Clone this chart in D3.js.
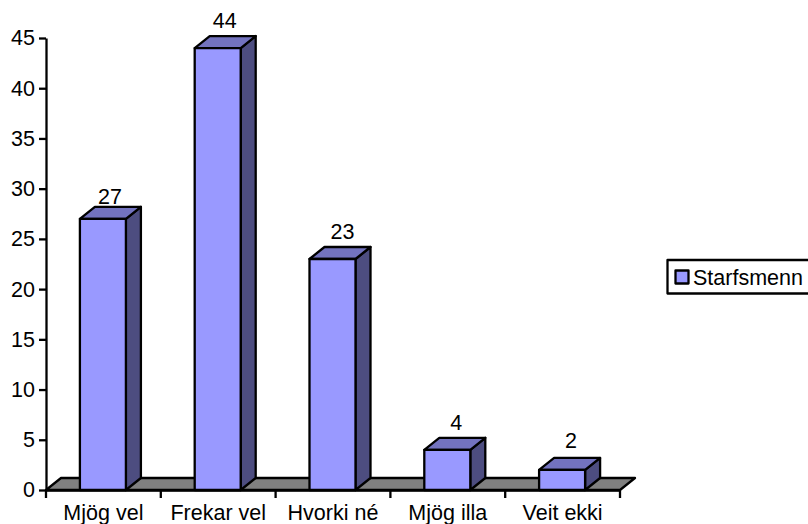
<!DOCTYPE html>
<html><head><meta charset="utf-8">
<script src="https://cdn.jsdelivr.net/npm/d3@7"></script>
<style>html,body{margin:0;padding:0;background:#fff;overflow:hidden}svg{display:block}text{font-family:"Liberation Sans",Arial,sans-serif;font-size:21.5px;fill:#000}</style>
</head><body><svg id="c" width="808" height="524"></svg>
<script>
const categories = ["Mjög vel","Frekar vel","Hvorki né","Mjög illa","Veit ekki"];
const values = [27,44,23,4,2];
const yTicks = [0,5,10,15,20,25,30,35,40,45];
const seriesName = "Starfsmenn";
const labelDx = [7,7,10,9,9];
const labelDy = [3,8,8,8,10];

const svg = d3.select("#c");
const x = d3.scaleBand().domain(categories).range([46,620]).paddingInner(0).paddingOuter(0);
const y = d3.scaleLinear().domain([0,45]).range([490,38]);
const depthX = 15, depthY = 12, barW = 46;
const colFront="#9999ff", colTop="#7373bf", colSide="#4d4d80", colFloor="#808080";
const sw = 2.3;
const fontSize = "21.5px";
const poly = pts => pts.map(p=>p.join(",")).join(" ");

svg.append("polygon")
  .attr("points",poly([[x.range()[0],y(0)],[x.range()[0]+depthX,y(0)-depthY],[x.range()[1]+depthX,y(0)-depthY],[x.range()[1],y(0)]]))
  .attr("fill",colFloor).attr("stroke","#000").attr("stroke-width",sw).attr("stroke-linejoin","round");

const yAxis = svg.append("g").attr("transform","translate(46,0)")
  .call(d3.axisLeft(y).tickValues(yTicks).tickSize(7).tickSizeOuter(0).tickPadding(4).tickFormat(d3.format("d")));
const xAxis = svg.append("g").attr("transform","translate(0,490)")
  .call(d3.axisBottom(x).tickSize(0).tickPadding(14.5));
xAxis.selectAll(".tick text").attr("dy","0.71em");
xAxis.selectAll("line.edge").data(d3.range(categories.length+1)).enter().append("line")
  .attr("x1",i=>46+i*x.step()).attr("x2",i=>46+i*x.step()).attr("y1",0).attr("y2",8)
  .attr("stroke","#000").attr("stroke-width",sw);
svg.selectAll(".domain").attr("stroke","#000").attr("stroke-width",sw);
svg.selectAll(".tick line").attr("stroke","#000").attr("stroke-width",sw);
svg.selectAll(".tick text").style("font-size",fontSize).style("font-family",'"Liberation Sans",Arial,sans-serif').attr("fill","#000");

const bars = svg.selectAll("g.bar").data(categories.map((c,i)=>({c,v:values[i],i}))).enter().append("g").attr("class","bar");
const L = d => x(d.c)+(x.step()-barW)/2 - 0.5;
const R = d => L(d)+barW;
const stroke = s => s.attr("stroke","#000").attr("stroke-width",sw).attr("stroke-linejoin","round");
bars.append("polygon").attr("points",d=>poly([[R(d),y(d.v)],[R(d)+depthX,y(d.v)-depthY],[R(d)+depthX,y(0)-depthY],[R(d),y(0)]])).attr("fill",colSide).call(stroke);
bars.append("polygon").attr("points",d=>poly([[L(d),y(d.v)],[L(d)+depthX,y(d.v)-depthY],[R(d)+depthX,y(d.v)-depthY],[R(d),y(d.v)]])).attr("fill",colTop).call(stroke);
bars.append("rect").attr("x",L).attr("y",d=>y(d.v)).attr("width",barW).attr("height",d=>y(0)-y(d.v)).attr("fill",colFront).call(stroke);
bars.append("text").attr("x",d=>(L(d)+R(d))/2+labelDx[d.i]).attr("y",d=>y(d.v)-depthY-labelDy[d.i]).attr("text-anchor","middle").text(d=>d.v);

const lg = svg.append("g");
lg.append("rect").attr("x",667.5).attr("y",260).attr("width",150).attr("height",33.5).attr("fill","#fff").call(stroke);
lg.append("rect").attr("x",675.5).attr("y",270.5).attr("width",13).attr("height",13).attr("fill",colFront).call(stroke);
lg.append("text").attr("x",693).attr("y",285).text(seriesName);
</script></body></html>
